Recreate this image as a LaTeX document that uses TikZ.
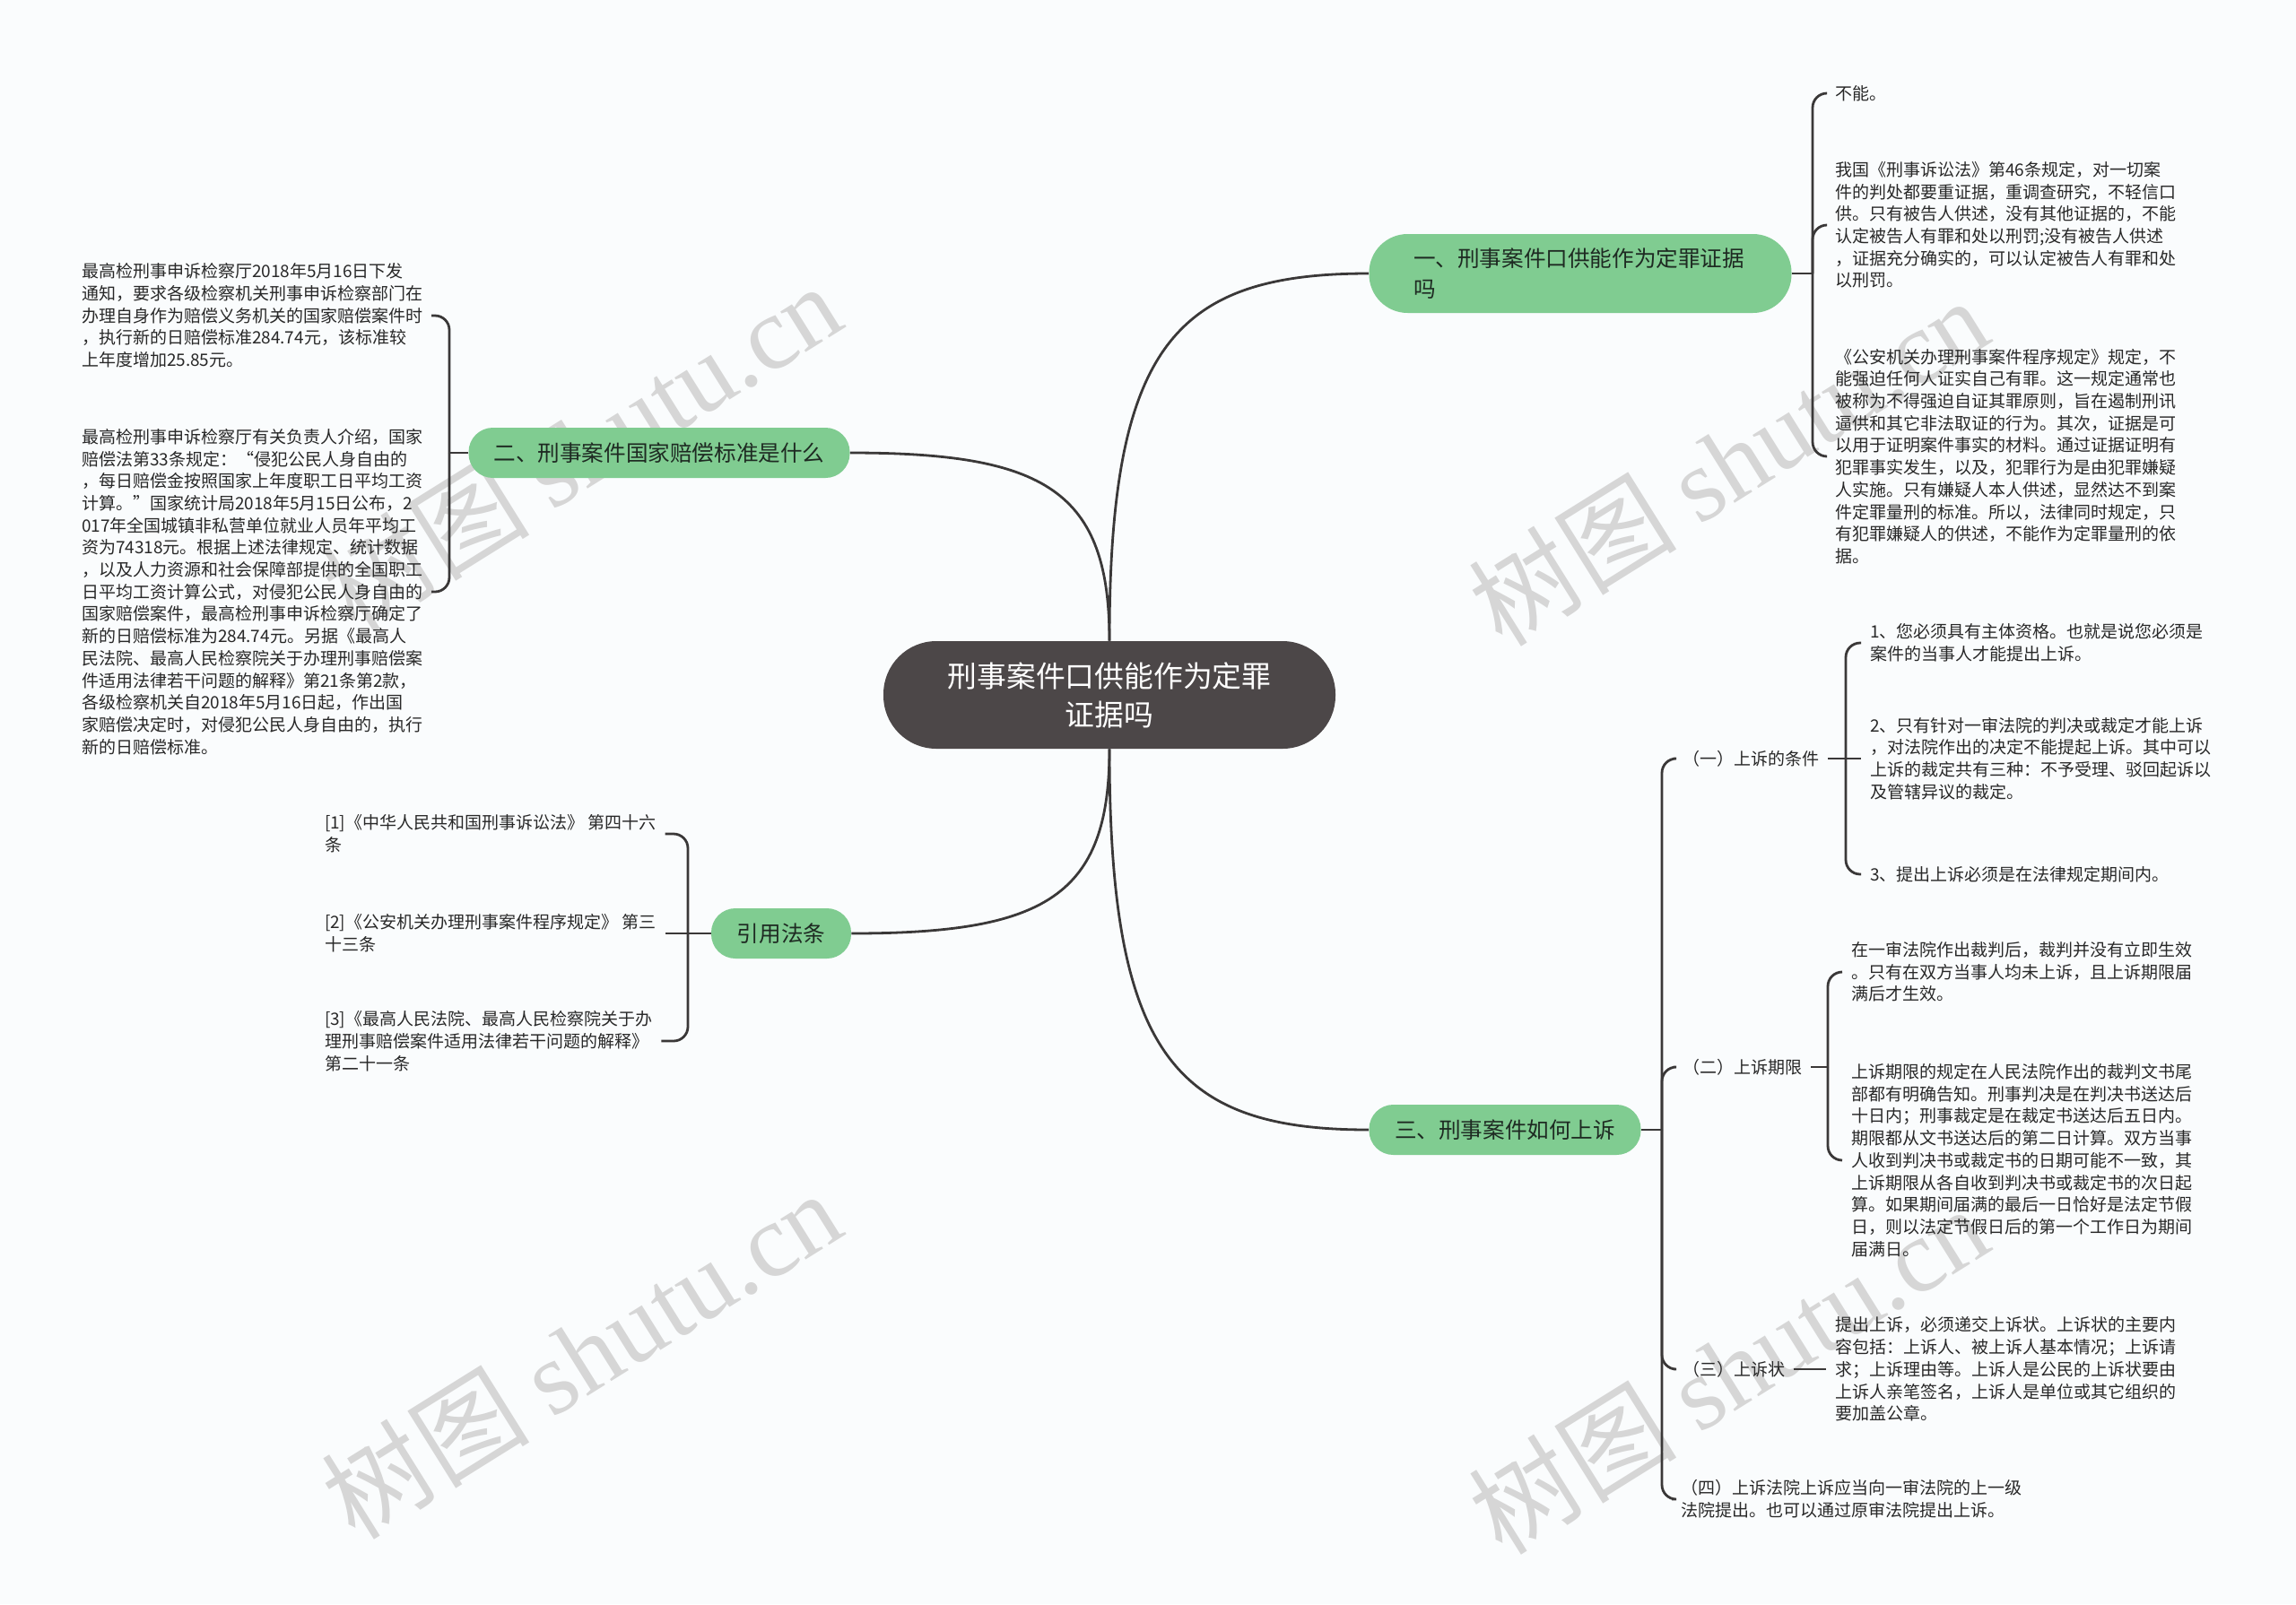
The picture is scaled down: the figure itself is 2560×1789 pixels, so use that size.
\documentclass[tikz,border=0pt]{standalone}
\usepackage{fontspec}
\setmainfont{Noto Sans CJK SC}
\newfontfamily\wmserif{Liberation Serif}
\definecolor{bgc}{RGB}{250,252,253}
\definecolor{linec}{RGB}{58,56,56}
\definecolor{greenc}{RGB}{128,204,145}
\definecolor{gtext}{RGB}{30,42,34}
\definecolor{centerc}{RGB}{76,71,72}
\definecolor{wmc}{RGB}{214,214,214}
\definecolor{leaftext}{RGB}{40,40,40}
\begin{document}
\begin{tikzpicture}[x=0.5pt,y=-0.5pt,
  leaf/.style={anchor=west, inner sep=0pt, outer xsep=5pt, align=left, font=\fontsize{9.5}{12.35}\selectfont, text=leaftext},
  leafr/.style={leaf},
  gnode/.style={fill=greenc, inner sep=0pt, text=gtext, font=\fontsize{12.3}{17}\selectfont, minimum height=28pt, rounded corners=13.5pt},
  conn/.style={draw=linec, line width=1.4pt},
  bracket/.style={conn, rounded corners=8pt},
  wm/.style={text=wmc, rotate=32, font=\fontsize{58}{60}\selectfont, inner sep=0pt}
]
\fill[bgc] (0,0) rectangle (2560,1789);
\useasboundingbox (0,0) rectangle (2560,1789);

% watermarks
\node[wm] (wm1) at (648,498) {树图 {\wmserif shutu.cn}};
\node[wm] (wm2) at (1927,514) {树图 {\wmserif shutu.cn}};
\node[wm] (wm3) at (648,1510) {树图 {\wmserif shutu.cn}};
\node[wm] (wm4) at (1927,1527) {树图 {\wmserif shutu.cn}};

% centre
\node[fill=centerc, text=white, inner sep=0pt, minimum width=252pt, minimum height=60pt, rounded corners=29.5pt, align=center, font=\fontsize{16.4}{21.5}\selectfont] (c) at (1237,775) {刑事案件口供能作为定罪\\证据吗};

% main branches
\node[gnode, minimum width=235.5pt, minimum height=44pt, rounded corners=21.5pt, align=left, text width=186pt] (n1) at (1762,305) {一、刑事案件口供能作为定罪证据\\吗};
\node[gnode, minimum width=212.5pt] (n2) at (735,505) {二、刑事案件国家赔偿标准是什么};
\node[gnode, minimum width=78pt] (n3) at (871,1041) {引用法条};
\node[gnode, minimum width=151.5pt] (n4) at (1678,1260) {三、刑事案件如何上诉};

\draw[conn] (c.north) .. controls (1237,387) and (1309,305) .. (n1.west);
\draw[conn] (c.north) .. controls (1237,547) and (1165,505) .. (n2.east);
\draw[conn] (c.south) .. controls (1237,1000) and (1165,1041) .. (n3.east);
\draw[conn] (c.south) .. controls (1237,1175) and (1309,1260) .. (n4.west);

% branch 1 leaves
\node[leaf] (r1a) at (2036,104) {不能。};
\node[leaf] (r1b) at (2036,251) {我国《刑事诉讼法》第46条规定，对一切案\\件的判处都要重证据，重调查研究，不轻信口\\供。只有被告人供述，没有其他证据的，不能\\认定被告人有罪和处以刑罚;没有被告人供述\\，证据充分确实的，可以认定被告人有罪和处\\以刑罚。};
\node[leaf] (r1c) at (2036,509) {《公安机关办理刑事案件程序规定》规定，不\\能强迫任何人证实自己有罪。这一规定通常也\\被称为不得强迫自证其罪原则，旨在遏制刑讯\\逼供和其它非法取证的行为。其次，证据是可\\以用于证明案件事实的材料。通过证据证明有\\犯罪事实发生，以及，犯罪行为是由犯罪嫌疑\\人实施。只有嫌疑人本人供述，显然达不到案\\件定罪量刑的标准。所以，法律同时规定，只\\有犯罪嫌疑人的供述，不能作为定罪量刑的依\\据。};
\coordinate (k1) at (2021,305);
\draw[conn] (n1.east) -- (k1);
\draw[bracket] (k1) |- (r1a.west);
\draw[bracket] (k1) |- (r1b.west);
\draw[bracket] (k1) |- (r1c.west);

% branch 2 leaves
\node[leaf] (l2a) at (81,352) {最高检刑事申诉检察厅2018年5月16日下发\\通知，要求各级检察机关刑事申诉检察部门在\\办理自身作为赔偿义务机关的国家赔偿案件时\\，执行新的日赔偿标准284.74元，该标准较\\上年度增加25.85元。};
\node[leaf] (l2b) at (81,660) {最高检刑事申诉检察厅有关负责人介绍，国家\\赔偿法第33条规定：“侵犯公民人身自由的\\，每日赔偿金按照国家上年度职工日平均工资\\计算。”国家统计局2018年5月15日公布，2\\017年全国城镇非私营单位就业人员年平均工\\资为74318元。根据上述法律规定、统计数据\\，以及人力资源和社会保障部提供的全国职工\\日平均工资计算公式，对侵犯公民人身自由的\\国家赔偿案件，最高检刑事申诉检察厅确定了\\新的日赔偿标准为284.74元。另据《最高人\\民法院、最高人民检察院关于办理刑事赔偿案\\件适用法律若干问题的解释》第21条第2款，\\各级检察机关自2018年5月16日起，作出国\\家赔偿决定时，对侵犯公民人身自由的，执行\\新的日赔偿标准。};
\coordinate (k2) at (501,505);
\draw[conn] (n2.west) -- (k2);
\draw[bracket] (k2) |- (l2a.east);
\draw[bracket] (k2) |- (l2b.east);

% references
\node[leaf] (f1) at (352,930) {[1]《中华人民共和国刑事诉讼法》 第四十六\\条};
\node[leaf] (f2) at (352,1041) {[2]《公安机关办理刑事案件程序规定》 第三\\十三条};
\node[leaf] (f3) at (352,1161) {[3]《最高人民法院、最高人民检察院关于办\\理刑事赔偿案件适用法律若干问题的解释》\\第二十一条};
\coordinate (k3) at (767,1041);
\draw[conn] (n3.west) -- (k3);
\draw[bracket] (k3) |- (f1.east);
\draw[conn] (k3) -- (f2.east);
\draw[bracket] (k3) |- (f3.east);

% branch 3
\node[leaf] (s1) at (1866,846) {（一）上诉的条件};
\node[leaf] (s2) at (1866,1190) {（二）上诉期限};
\node[leaf] (s3) at (1866,1527) {（三）上诉状};
\node[leaf] (s4) at (1864,1672) {（四）上诉法院上诉应当向一审法院的上一级\\法院提出。也可以通过原审法院提出上诉。};
\coordinate (k4) at (1853,1260);
\draw[conn] (n4.east) -- (k4);
\draw[bracket] (k4) |- (s1.west);
\draw[bracket] (k4) |- (s2.west);
\draw[bracket] (k4) |- (s3.west);
\draw[bracket] (k4) |- (s4.west);

\node[leaf] (t1) at (2075,717) {1、您必须具有主体资格。也就是说您必须是\\案件的当事人才能提出上诉。};
\node[leaf] (t2) at (2075,846) {2、只有针对一审法院的判决或裁定才能上诉\\，对法院作出的决定不能提起上诉。其中可以\\上诉的裁定共有三种：不予受理、驳回起诉以\\及管辖异议的裁定。};
\node[leaf] (t3) at (2075,975) {3、提出上诉必须是在法律规定期间内。};
\coordinate (k5) at (2058,846);
\draw[conn] (s1.east) -- (k5);
\draw[bracket] (k5) |- (t1.west);
\draw[conn] (k5) -- (t2.west);
\draw[bracket] (k5) |- (t3.west);

\node[leaf] (u1) at (2054,1084) {在一审法院作出裁判后，裁判并没有立即生效\\。只有在双方当事人均未上诉，且上诉期限届\\满后才生效。};
\node[leaf] (u2) at (2054,1294) {上诉期限的规定在人民法院作出的裁判文书尾\\部都有明确告知。刑事判决是在判决书送达后\\十日内；刑事裁定是在裁定书送达后五日内。\\期限都从文书送达后的第二日计算。双方当事\\人收到判决书或裁定书的日期可能不一致，其\\上诉期限从各自收到判决书或裁定书的次日起\\算。如果期间届满的最后一日恰好是法定节假\\日，则以法定节假日后的第一个工作日为期间\\届满日。};
\coordinate (k6) at (2038,1190);
\draw[conn] (s2.east) -- (k6);
\draw[bracket] (k6) |- (u1.west);
\draw[bracket] (k6) |- (u2.west);

\node[leaf] (v1) at (2036,1527) {提出上诉，必须递交上诉状。上诉状的主要内\\容包括：上诉人、被上诉人基本情况；上诉请\\求；上诉理由等。上诉人是公民的上诉状要由\\上诉人亲笔签名，上诉人是单位或其它组织的\\要加盖公章。};
\draw[conn] (s3.east) -- (v1.west);
\end{tikzpicture}
\end{document}
